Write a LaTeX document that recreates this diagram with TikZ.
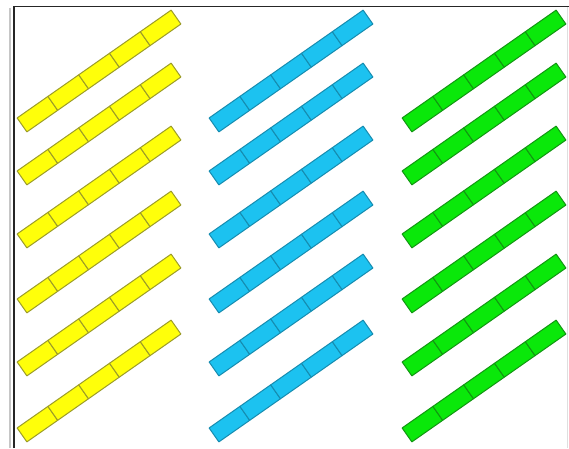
\documentclass[tikz,border=0pt]{standalone}
\definecolor{barY}{HTML}{FFFF0A}
\definecolor{barYd}{HTML}{9C9C28}
\definecolor{barB}{HTML}{1CC2F0}
\definecolor{barBd}{HTML}{168CB0}
\definecolor{barG}{HTML}{0AE80A}
\definecolor{barGd}{HTML}{129612}
\tikzset{segbox/.style={line width=1pt, line join=round}}
\begin{document}
\begin{tikzpicture}[x=1pt,y=-1pt]
\useasboundingbox (0,0) rectangle (569,448);
\fill[white] (0,0) rectangle (569,448);
\draw[gray!45, line width=1.2pt] (10,8) -- (10,448);
\draw[gray!25, line width=1pt] (567,7) -- (567,448);
\draw[black!85, line width=1.6pt] (14,448) -- (14,6.5) -- (569,6.5);
\foreach \cx/\fc/\dc in {99/barY/barYd, 291/barB/barBd, 484/barG/barGd}{
  \foreach \cy in {71,124,187,252,315,381}{
    \begin{scope}[shift={(\cx,\cy)}, rotate=35]
      \foreach \i in {0,...,4}
        \draw[segbox, fill=\fc, draw=\dc] (-94+37.6*\i,-8.5) rectangle ++(37.6,17);
    \end{scope}
  }
}
\end{tikzpicture}
\end{document}
